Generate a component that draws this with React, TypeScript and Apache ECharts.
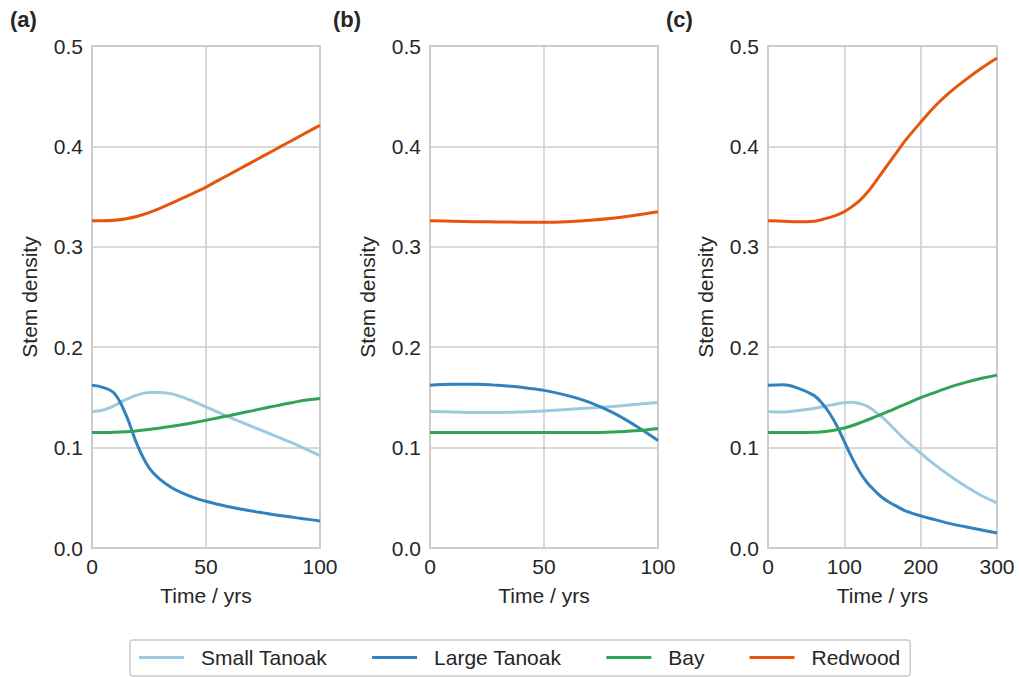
import React, { useEffect, useRef } from "react";
import * as echarts from "echarts";

// Time points (years) for each panel
const timeA = [0, 5, 10, 15, 20, 25, 30, 35, 40, 45, 50, 55, 60, 65, 70, 75, 80, 85, 90, 95, 100];
const timeB = [0, 10, 20, 30, 40, 50, 60, 70, 80, 90, 100];
const timeC = [0, 20, 40, 60, 70, 80, 90, 100, 110, 120, 130, 140, 150, 160, 170, 180, 200, 220, 240, 260, 280, 300];

// Panel (a)
const smallTanoakA = [0.136, 0.1375, 0.142, 0.148, 0.1525, 0.1548, 0.155, 0.1535, 0.15, 0.1455, 0.1405, 0.1355, 0.1305, 0.1258, 0.1212, 0.1166, 0.112, 0.1073, 0.1025, 0.0973, 0.092];
const largeTanoakA = [0.162, 0.1598, 0.1535, 0.132, 0.102, 0.08, 0.068, 0.06, 0.0545, 0.05, 0.0465, 0.0435, 0.041, 0.0388, 0.0368, 0.035, 0.0332, 0.0316, 0.03, 0.0285, 0.027];
const bayA = [0.115, 0.115, 0.1152, 0.1158, 0.1168, 0.118, 0.1195, 0.1212, 0.123, 0.125, 0.1272, 0.1295, 0.1318, 0.1342, 0.1366, 0.139, 0.1413, 0.1436, 0.1458, 0.1476, 0.149];
const redwoodA = [0.326, 0.326, 0.3265, 0.328, 0.3305, 0.334, 0.3385, 0.3435, 0.3487, 0.354, 0.3595, 0.3657, 0.3718, 0.378, 0.3841, 0.3903, 0.3964, 0.4026, 0.4087, 0.4149, 0.421];

// Panel (b)
const smallTanoakB = [0.136, 0.1355, 0.135, 0.135, 0.1355, 0.1365, 0.138, 0.1395, 0.141, 0.143, 0.145];
const largeTanoakB = [0.162, 0.163, 0.163, 0.162, 0.16, 0.157, 0.152, 0.145, 0.135, 0.122, 0.107];
const bayB = [0.115, 0.115, 0.115, 0.115, 0.115, 0.115, 0.115, 0.115, 0.1155, 0.1167, 0.119];
const redwoodB = [0.326, 0.3255, 0.325, 0.3248, 0.3245, 0.3245, 0.325, 0.3265, 0.3285, 0.3315, 0.335];

// Panel (c)
const smallTanoakC = [0.136, 0.1355, 0.137, 0.139, 0.1405, 0.142, 0.1435, 0.1448, 0.1452, 0.1438, 0.1412, 0.136, 0.13, 0.1228, 0.115, 0.1075, 0.0945, 0.082, 0.071, 0.061, 0.052, 0.045];
const largeTanoakC = [0.162, 0.1625, 0.159, 0.152, 0.145, 0.135, 0.122, 0.106, 0.09, 0.076, 0.065, 0.057, 0.05, 0.045, 0.041, 0.037, 0.032, 0.028, 0.024, 0.021, 0.018, 0.015];
const bayC = [0.115, 0.115, 0.115, 0.1152, 0.1157, 0.1165, 0.1178, 0.1195, 0.1218, 0.1245, 0.1275, 0.1305, 0.1335, 0.1367, 0.14, 0.1433, 0.1497, 0.1553, 0.1607, 0.1652, 0.169, 0.1722];
const redwoodC = [0.326, 0.3255, 0.325, 0.3255, 0.327, 0.329, 0.3315, 0.335, 0.34, 0.346, 0.354, 0.364, 0.3745, 0.385, 0.3955, 0.406, 0.424, 0.441, 0.455, 0.467, 0.478, 0.488];

const speciesNames = ["Small Tanoak", "Large Tanoak", "Bay", "Redwood"];
const speciesColors = ["#9ecae1", "#3182bd", "#31a354", "#e6550d"];
const panelLabels = ["(a)", "(b)", "(c)"];
const xMax = [100, 100, 300];
const xStep = [50, 50, 100];

const panels = [
  { time: timeA, values: [smallTanoakA, largeTanoakA, bayA, redwoodA] },
  { time: timeB, values: [smallTanoakB, largeTanoakB, bayB, redwoodB] },
  { time: timeC, values: [smallTanoakC, largeTanoakC, bayC, redwoodC] },
];

const FONT = "Liberation Sans, Arial, sans-serif";
const TEXT = "#262626";
const GRIDC = "#cccccc";
const FS = 21;

const gridBoxes = [
  { left: 92, width: 228 },
  { left: 430, width: 228 },
  { left: 768, width: 229 },
];
const panelLabelX = [10, 333, 666];

export default function App() {
  const ref = useRef<HTMLDivElement>(null);

  useEffect(() => {
    if (!ref.current) return;
    const chart = echarts.init(ref.current, undefined, { renderer: "svg" });

    const grid = gridBoxes.map((g) => ({
      left: g.left,
      width: g.width,
      top: 46,
      height: 502,
      show: true,
      borderColor: GRIDC,
      borderWidth: 2,
      containLabel: false,
    }));

    const xAxis = panels.map((_, i) => ({
      type: "value",
      gridIndex: i,
      min: 0,
      max: xMax[i],
      interval: xStep[i],
      name: "Time / yrs",
      nameLocation: "middle",
      nameGap: 37,
      nameTextStyle: { fontFamily: FONT, fontSize: FS, color: TEXT },
      axisLine: { show: false },
      axisTick: { show: false },
      axisLabel: { fontFamily: FONT, fontSize: FS, color: TEXT, margin: 8 },
      splitLine: { show: true, lineStyle: { color: GRIDC, width: 1.5 } },
    }));

    const yAxis = panels.map((_, i) => ({
      type: "value",
      gridIndex: i,
      min: 0,
      max: 0.5,
      interval: 0.1,
      name: "Stem density",
      nameLocation: "middle",
      nameGap: 52,
      nameRotate: 90,
      nameTextStyle: { fontFamily: FONT, fontSize: FS, color: TEXT },
      axisLine: { show: false },
      axisTick: { show: false },
      axisLabel: {
        fontFamily: FONT,
        fontSize: FS,
        color: TEXT,
        margin: 9,
        formatter: (v: number) => v.toFixed(1),
      },
      splitLine: { show: true, lineStyle: { color: GRIDC, width: 1.5 } },
    }));

    const series: any[] = [];
    panels.forEach((p, i) => {
      p.values.forEach((vals, k) => {
        series.push({
          type: "line",
          name: speciesNames[k],
          xAxisIndex: i,
          yAxisIndex: i,
          data: p.time.map((t, j) => [t, vals[j]]),
          smooth: 0.4,
          showSymbol: false,
          symbol: "none",
          lineStyle: { color: speciesColors[k], width: 3 },
          itemStyle: { color: speciesColors[k] },
          z: 3,
        });
      });
    });

    chart.setOption({
      animation: false,
      backgroundColor: "#ffffff",
      grid,
      xAxis,
      yAxis,
      series,
      legend: {
        data: speciesNames,
        left: 130,
        top: 640,
        padding: [7, 10, 8, 9],
        borderColor: GRIDC,
        borderWidth: 1.5,
        borderRadius: 3,
        icon: "rect",
        itemWidth: 45,
        itemHeight: 3,
        itemGap: 45,
        textStyle: { fontFamily: FONT, fontSize: FS, color: TEXT, padding: [0, 0, 0, 12] },
      },
      graphic: panelLabels.map((lbl, i) => ({
        type: "text",
        left: panelLabelX[i],
        top: 8,
        style: { text: lbl, fontFamily: FONT, fontSize: 22, fontWeight: "bold", fill: TEXT },
      })),
    });

    return () => chart.dispose();
  }, []);

  return (
    <div
      ref={ref}
      style={{ position: "absolute", left: 0, top: 0, width: 1019, height: 677 }}
    />
  );
}
